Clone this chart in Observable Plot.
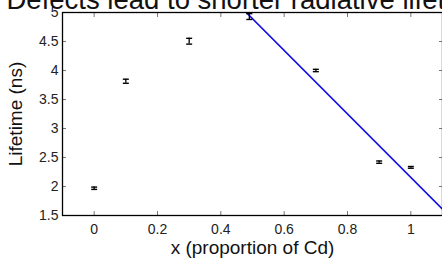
<!DOCTYPE html>
<html>
<head>
<meta charset="utf-8">
<script src="https://cdn.jsdelivr.net/npm/d3@7"></script>
<script src="https://cdn.jsdelivr.net/npm/@observablehq/plot@0.6"></script>
<style>
  html, body { margin: 0; padding: 0; background: #fff; }
  #chart { width: 442px; height: 260px; overflow: hidden; }
  svg { overflow: visible; }
</style>
</head>
<body>
<div id="chart"></div>
<script>
const title = "Defects lead to shorter radiative lifetimes";
const xLabel = "x (proportion of Cd)";
const yLabel = "Lifetime (ns)";
const cdFraction = [0, 0.1, 0.3, 0.49, 0.7, 0.9, 1.0];
const lifetime = [1.97, 3.815, 4.505, 4.93, 4.0, 2.42, 2.33];
const lifetimeErr = [0.02, 0.035, 0.05, 0.05, 0.02, 0.02, 0.015];
const fitX = [0.4, 1.1];
const fitY = [5.44, 1.61];
const xTicks = [0, 0.2, 0.4, 0.6, 0.8, 1];
const yTicks = [1.5, 2, 2.5, 3, 3.5, 4, 4.5, 5];

const points = cdFraction.map((x, i) => ({x, y: lifetime[i], lo: lifetime[i] - lifetimeErr[i], hi: lifetime[i] + lifetimeErr[i]}));
const fit = fitX.map((x, i) => ({x, y: fitY[i]}));

const capSymbol = {
  draw(context, size) { context.moveTo(-3, 0); context.lineTo(3, 0); }
};

const font = "'Liberation Sans', Arial, sans-serif";
const fmt = d => String(d);

const chart = Plot.plot({
  width: 442,
  height: 260,
  marginLeft: 62,
  marginRight: 0,
  marginTop: 12,
  marginBottom: 45,
  style: {fontFamily: font, background: "white", overflow: "visible"},
  x: {domain: [-0.1, 1.1], axis: null},
  y: {domain: [1.5, 5], axis: null},
  marks: [
    Plot.axisX({anchor: "bottom", ticks: xTicks, tickFormat: fmt, tickSize: -4, tickPadding: 13, stroke: "#777", fontSize: 14, fill: "#222", label: null}),
    Plot.axisX({anchor: "top", ticks: xTicks, tickSize: -4, tickFormat: () => "", stroke: "#777", label: null}),
    Plot.axisY({anchor: "left", ticks: yTicks, tickFormat: fmt, tickSize: -4, tickPadding: 8, stroke: "#777", fontSize: 14, fill: "#222", label: null}),
    Plot.axisY({anchor: "right", ticks: yTicks, tickSize: -4, tickFormat: () => "", stroke: "#777", label: null}),
    Plot.line(fit, {x: "x", y: "y", stroke: "#1010e0", strokeWidth: 1.6, clip: true}),
    Plot.ruleX(points, {x: "x", y1: "lo", y2: "hi", stroke: "black", strokeWidth: 1.3}),
    Plot.dot(points, {x: "x", y: "lo", symbol: capSymbol, stroke: "black", strokeWidth: 1.4, r: 3}),
    Plot.dot(points, {x: "x", y: "hi", symbol: capSymbol, stroke: "black", strokeWidth: 1.4, r: 3}),
    Plot.frame({stroke: "black", strokeWidth: 1.3}),
    Plot.text([xLabel], {frameAnchor: "bottom", dy: 38, lineAnchor: "bottom", fontSize: 19, fill: "#111"}),
    Plot.text([yLabel], {frameAnchor: "left", rotate: -90, dx: -41, textAnchor: "middle", lineAnchor: "bottom", fontSize: 19, fill: "#111"}),
    Plot.text([title], {frameAnchor: "top-left", dx: -56, dy: -4, textAnchor: "start", lineAnchor: "bottom", fontSize: 27.5, fill: "#111"})
  ]
});
document.getElementById("chart").appendChild(chart);
</script>
</body>
</html>
